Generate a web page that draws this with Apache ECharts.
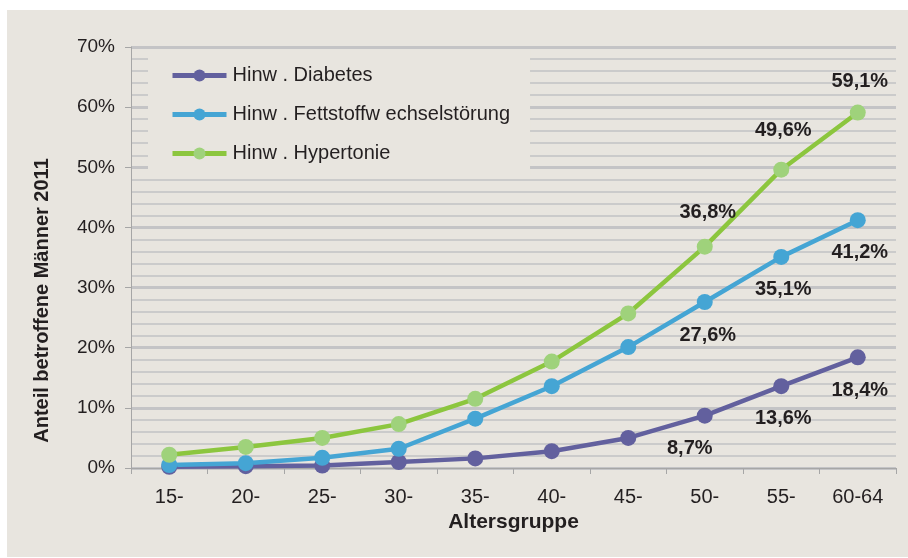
<!DOCTYPE html>
<html>
<head>
<meta charset="utf-8">
<script src="https://cdn.jsdelivr.net/npm/echarts@6/dist/echarts.min.js"></script>
<style>
  html, body { margin: 0; padding: 0; background: #ffffff; }
  #chart { width: 908px; height: 558px; }
</style>
</head>
<body>
<div id="chart"></div>
<script>
// Age groups on the x axis
const ageGroups = ['15-', '20-', '25-', '30-', '35-', '40-', '45-', '50-', '55-', '60-64'];

// Share of affected men 2011, in percent
const diabetes = [0.2, 0.3, 0.4, 1.0, 1.6, 2.8, 5.0, 8.7, 13.6, 18.4];
const fettstoff = [0.5, 0.8, 1.7, 3.2, 8.2, 13.6, 20.1, 27.6, 35.1, 41.2];
const hypertonie = [2.2, 3.5, 5.0, 7.3, 11.5, 17.7, 25.7, 36.8, 49.6, 59.1];

// Legend / series names
const seriesNames = ['Hinw . Diabetes', 'Hinw . Fettstoffw echselstörung', 'Hinw . Hypertonie'];

// Y axis ticks
const yTicks = [0, 10, 20, 30, 40, 50, 60, 70];

// Indices of the points that carry a value label
const labelledIdx = [7, 8, 9];

const FONT = '"Liberation Sans", Arial, sans-serif';
const TEXT = '#231f20';
const BG = '#e8e5df';

function fmt(v) {
  return v.toFixed(1).replace('.', ',') + '%';
}

// Build data items; labelled points get a bold value label with an offset
function buildData(values, offsets) {
  return values.map((v, i) => {
    const k = labelledIdx.indexOf(i);
    if (k < 0) return v;
    return {
      value: v,
      label: {
        show: true,
        position: 'inside',
        offset: offsets[k],
        formatter: () => fmt(v),
        fontFamily: FONT,
        fontWeight: 'bold',
        fontSize: 20,
        color: TEXT
      }
    };
  });
}

function lineSeries(name, values, lineColor, markerColor, offsets) {
  return {
    name: name,
    type: 'line',
    data: buildData(values, offsets),
    symbol: 'circle',
    symbolSize: 16,
    showAllSymbol: true,
    lineStyle: { color: lineColor, width: 4.5 },
    itemStyle: { color: markerColor },
    emphasis: { disabled: true },
    animation: false,
    z: 3
  };
}

const chart = echarts.init(document.getElementById('chart'), null, { renderer: 'canvas' });

chart.setOption({
  animation: false,
  graphic: [{
    type: 'rect',
    z: -100,
    silent: true,
    shape: { x: 7, y: 10, width: 901, height: 547 },
    style: { fill: BG }
  }],
  grid: { left: 131, right: 12, top: 47, bottom: 90, containLabel: false },
  legend: {
    show: true,
    orient: 'vertical',
    left: 148,
    top: 50,
    padding: [15, 20, 11, 22],
    backgroundColor: BG,
    itemWidth: 54,
    itemHeight: 15,
    itemGap: 18,
    data: seriesNames,
    lineStyle: { width: 5 },
    textStyle: {
      fontFamily: FONT,
      fontSize: 20,
      color: TEXT,
      lineHeight: 21,
      padding: [0, 0, 0, 1]
    }
  },
  xAxis: {
    type: 'category',
    data: ageGroups,
    boundaryGap: true,
    name: 'Altersgruppe',
    nameLocation: 'middle',
    nameGap: 44,
    nameTextStyle: { fontFamily: FONT, fontWeight: 'bold', fontSize: 21, color: TEXT },
    axisLine: { show: true, lineStyle: { color: '#a6a6a6', width: 1 } },
    axisTick: { show: true, alignWithLabel: false, length: 6, lineStyle: { color: '#a6a6a6' } },
    axisLabel: { fontFamily: FONT, fontSize: 20, color: TEXT, margin: 19 },
    splitLine: { show: false }
  },
  yAxis: {
    type: 'value',
    min: yTicks[0],
    max: yTicks[yTicks.length - 1],
    interval: yTicks[1] - yTicks[0],
    name: 'Anteil betroffene Männer 2011',
    nameLocation: 'middle',
    nameGap: 79,
    nameRotate: 90,
    nameTextStyle: {
      fontFamily: FONT, fontWeight: 'bold', fontSize: 20, color: TEXT,
      padding: [0, 86, 0, 0]
    },
    axisLine: { show: true, lineStyle: { color: '#a6a6a6', width: 1 } },
    axisTick: { show: true, length: 6, lineStyle: { color: '#a6a6a6' } },
    axisLabel: {
      fontFamily: FONT, fontSize: 19, color: TEXT, margin: 16,
      formatter: (v) => v + '%'
    },
    splitLine: { show: true, lineStyle: { color: '#c4c4c6', width: 3 } },
    minorTick: { show: false, splitNumber: 5 },
    minorSplitLine: { show: true, lineStyle: { color: '#cbcbcb', width: 2 } }
  },
  series: [
    lineSeries(seriesNames[0], diabetes, '#62609e', '#62609e', [[-15, 33], [2, 32], [2, 33]]),
    lineSeries(seriesNames[1], fettstoff, '#45a5d4', '#45a5d4', [[3, 33], [2, 33], [2, 32]]),
    lineSeries(seriesNames[2], hypertonie, '#8cc63e', '#9fd27b', [[3, -34], [2, -39], [2, -31]])
  ]
});
</script>
</body>
</html>
